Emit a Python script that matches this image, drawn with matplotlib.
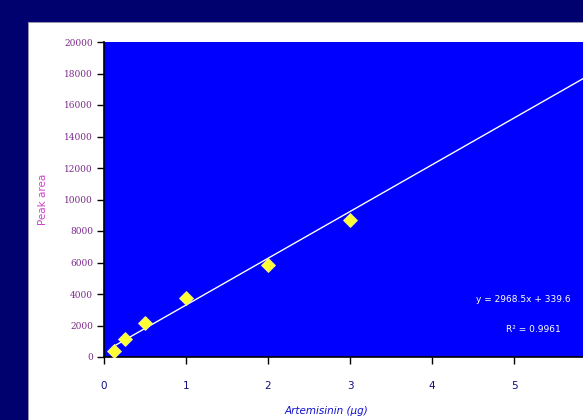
import matplotlib.pyplot as plt
from matplotlib.patches import Rectangle
import numpy as np

# calibration data
amount = [0.125, 0.25, 0.5, 1, 2, 3]
peak_area = [400, 1120, 2140, 3730, 5840, 8700]
slope, intercept = 2968.5, 330
eq_text = "y = 2968.5x + 339.6"
r2_text = "R² = 0.9961"
x_ticks = [0, 1, 2, 3, 4, 5]
y_ticks = np.arange(0, 20001, 2000)

fig = plt.figure(figsize=(5.83, 4.2), dpi=100, facecolor="#00006e")
fig.patches.append(Rectangle((28 / 583, 0), 1, 398 / 420, transform=fig.transFigure,
                             facecolor="white", edgecolor="#9999aa", lw=0.6, zorder=-5))

ax = fig.add_axes([104 / 583, 63 / 420, 574 / 583, 315 / 420])
ax.set_facecolor("#0000ff")
ax.set_xlim(0, 7)
ax.set_ylim(0, 20000)

# trendline
xs = np.array([amount[0], 7])
ax.plot(xs, slope * xs + intercept, color="white", lw=1.0, zorder=2)
ax.plot(amount, peak_area, linestyle="none", marker="D", markersize=7.5,
        color="#ffff33", markeredgecolor="#eeee99", markeredgewidth=0.6, zorder=3)

for s in ["top", "right"]:
    ax.spines[s].set_visible(False)
ax.spines["left"].set_color("black")
ax.spines["bottom"].set_color("black")
ax.spines["left"].set_linewidth(1.2)
ax.spines["bottom"].set_linewidth(1.2)

ax.set_yticks(y_ticks)
ax.set_yticklabels([str(v) for v in y_ticks], fontsize=6.5, color="#7a2a8a",
                   family="DejaVu Serif")
ax.set_xticks(x_ticks)
ax.set_xticklabels([str(v) for v in x_ticks], fontsize=7.5, color="#101080")
ax.tick_params(axis="y", length=5, width=1, color="black", pad=3)
ax.tick_params(axis="x", length=5, width=1, color="black", pad=12)

ax.set_ylabel("Peak area", fontsize=7.5, color="#cc44cc")
ax.yaxis.set_label_coords(-0.098, 0.5)
fig.text(326 / 583, 1 - 411 / 420, "Artemisinin (µg)", fontsize=7.5, color="#1010cc",
         ha="center", va="center", style="italic")

fig.text(476 / 583, 1 - 300 / 420, eq_text, fontsize=6.5, color="white", va="center")
fig.text(506 / 583, 1 - 330 / 420, r2_text, fontsize=6.5, color="white", va="center")

fig.savefig("out.png", dpi=100, facecolor=fig.get_facecolor())
